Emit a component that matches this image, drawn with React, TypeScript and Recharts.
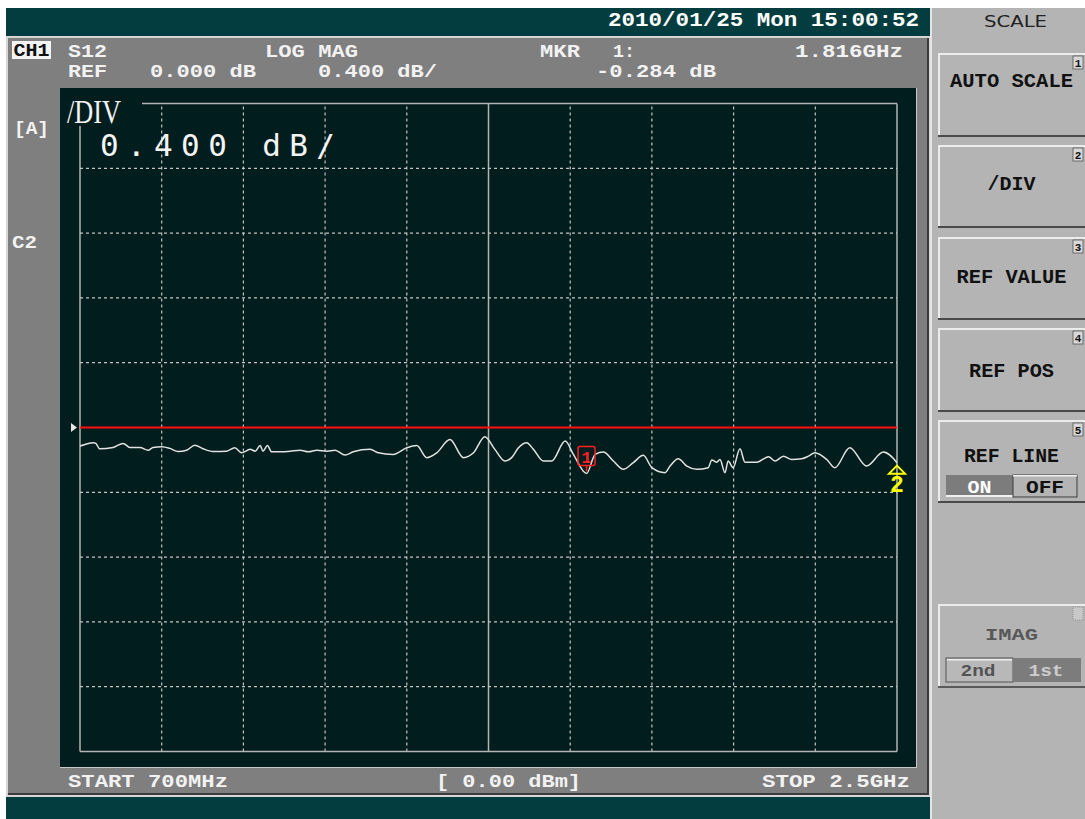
import React from 'react';
import { LineChart, Line, XAxis, YAxis, ReferenceLine, ReferenceDot } from 'recharts';

// S12 trace (MHz / dB)
const freqMHz = [
	700, 711, 729, 735, 743, 773, 795, 810, 832, 850, 861, 880, 898, 916, 935, 953, 971, 993,
	1023, 1041, 1056, 1075, 1086, 1097, 1103, 1113, 1122, 1144, 1163, 1185, 1203, 1222, 1244,
	1262, 1284, 1302, 1339, 1357, 1390, 1420, 1442, 1464, 1486, 1515, 1545, 1567, 1592, 1614,
	1636, 1651, 1666, 1684, 1699, 1721, 1739, 1769, 1787, 1816, 1835, 1853, 1875, 1897, 1919,
	1941, 1960, 1989, 2000, 2018, 2037, 2059, 2084, 2092, 2103, 2110, 2121, 2128, 2139, 2154,
	2165, 2191, 2217, 2231, 2250, 2268, 2290, 2305, 2319, 2345, 2363, 2396, 2433, 2470, 2500,
];
const s12dB = [
	-0.115, -0.105, -0.094, -0.098, -0.131, -0.123, -0.098, -0.123, -0.123, -0.14, -0.123, -0.119,
	-0.129, -0.148, -0.14, -0.109, -0.131, -0.148, -0.146, -0.125, -0.156, -0.135, -0.146, -0.111,
	-0.146, -0.111, -0.15, -0.15, -0.146, -0.14, -0.15, -0.14, -0.146, -0.14, -0.17, -0.15, -0.135,
	-0.156, -0.166, -0.125, -0.111, -0.186, -0.156, -0.074, -0.186, -0.156, -0.057, -0.135, -0.207,
	-0.186, -0.125, -0.094, -0.135, -0.207, -0.207, -0.084, -0.166, -0.284, -0.166, -0.152, -0.207,
	-0.258, -0.217, -0.172, -0.248, -0.279, -0.238, -0.193, -0.238, -0.258, -0.248, -0.201, -0.214,
	-0.197, -0.279, -0.207, -0.248, -0.131, -0.214, -0.214, -0.18, -0.207, -0.177, -0.197, -0.193,
	-0.177, -0.156, -0.197, -0.248, -0.125, -0.238, -0.152, -0.217,
];

// grid: 10 div across 700MHz..2.5GHz, 10 div of 0.4 dB around REF 0 dB
const xGrid = [700, 880, 1060, 1240, 1420, 1600, 1780, 1960, 2140, 2320, 2500];
const yGrid = [2, 1.6, 1.2, 0.8, 0.4, -0.4, -0.8, -1.2, -1.6, -2];
const refValue = 0;
const marker1 = { f: 1816, v: -0.284 };
const marker2 = { f: 2500, v: -0.217 };

const softkeys = [
	{ label: 'AUTO SCALE', n: '1', top: 53, bottom: 137, base: 87, len: 123 },
	{ label: '/DIV', n: '2', top: 145, bottom: 228, base: 190, len: 48 },
	{ label: 'REF VALUE', n: '3', top: 237, bottom: 320, base: 283, len: 110 },
	{ label: 'REF POS', n: '4', top: 328, bottom: 412, base: 377, len: 85 },
	{ label: 'REF LINE', n: '5', top: 420, bottom: 503, base: 462, len: 95 },
];

const data = freqMHz.map((f, i) => ({ f, v: s12dB[i] }));

const DEV = "'Liberation Mono', 'DejaVu Sans Mono', monospace";
const PLOT_BG = '#021d1d';
const TEAL = '#033d3f';

const Txt = ({ x, y, len, children, fill = '#f2f2f2', size = 19, anchor = 'start', weight = 'bold', family = DEV }: any) => (
	<text
		x={x}
		y={y}
		fill={fill}
		fontSize={size}
		fontWeight={weight}
		fontFamily={family}
		textAnchor={anchor}
		textLength={len}
		lengthAdjust='spacingAndGlyphs'
	>
		{children}
	</text>
);

const Marker1 = (props: any) => {
	const { cx, cy } = props;
	return (
		<g>
			<line x1={cx} x2={cx} y1={cy - 8} y2={cy - 2} stroke='#ff2020' strokeWidth={1.5} />
			<rect x={cx - 8.5} y={cy - 27} width={17} height={19} rx={2} fill='none' stroke='#ff2020' strokeWidth={1.5} />
			<text x={cx} y={cy - 11} fill='#ff2020' fontSize={17} fontWeight='bold' fontFamily={DEV} textAnchor='middle'>
				1
			</text>
		</g>
	);
};

const Marker2 = (props: any) => {
	const { cx, cy } = props;
	return (
		<g>
			<path d={`M${cx},${cy + 3} L${cx + 8},${cy + 11} L${cx - 8},${cy + 11} Z`} fill='none' stroke='#ffff00' strokeWidth={2} />
			<text x={cx} y={cy + 29} fill='#ffff00' fontSize={23} fontWeight='bold' fontFamily={DEV} textAnchor='middle'>
				2
			</text>
		</g>
	);
};

const RefArrow = (props: any) => {
	const { cx, cy } = props;
	return <path d={`M${cx - 9},${cy - 4.5} L${cx - 3},${cy} L${cx - 9},${cy + 4.5} Z`} fill='#e8e8e8' />;
};

const Softkey = ({ k }: any) => (
	<g>
		<rect x={938} y={k.top} width={147} height={k.bottom - k.top} fill='#b4b4b4' />
		<rect x={938} y={k.top} width={147} height={2} fill='#ececec' />
		<rect x={938} y={k.top} width={2} height={k.bottom - k.top} fill='#ececec' />
		<rect x={938} y={k.bottom - 2} width={147} height={2} fill='#4a4a4a' />
		<rect x={1073} y={k.top + 3} width={10} height={13} fill='#d8d8d8' stroke='#555' strokeWidth={0.8} />
		<text x={1078} y={k.top + 14} fontSize={11} fontWeight='bold' fontFamily={DEV} textAnchor='middle' fill='#111'>
			{k.n}
		</text>
		<Txt x={1011.5} y={k.base} len={k.len} anchor='middle' fill='#111' size={21}>
			{k.label}
		</Txt>
	</g>
);

const App = () => {
	return (
		<div style={{ position: 'absolute', left: 0, top: 0, width: 1085, height: 819, background: '#fff', overflow: 'hidden' }}>
			{/* frame */}
			<svg width={1085} height={819} style={{ position: 'absolute', left: 0, top: 0 }}>
				<rect x={0} y={0} width={1085} height={819} fill='#ffffff' />
				<rect x={6} y={8} width={925} height={28} fill={TEAL} />
				<rect x={6} y={36} width={925} height={761} fill='#d6d6d6' />
				<rect x={8} y={38} width={919} height={755} fill='#7f7f7f' />
				<rect x={927} y={38} width={2} height={757} fill='#3c3c3c' />
				<rect x={8} y={793} width={921} height={2} fill='#3c3c3c' />
				<rect x={6} y={797} width={925} height={22} fill={TEAL} />
				<rect x={60} y={88} width={857} height={680} fill='#c8c8c8' />
				<rect x={60} y={88} width={856} height={679} fill={PLOT_BG} />
				{/* soft key panel */}
				<rect x={930} y={8} width={155} height={811} fill='#e4e4e4' />
				<rect x={932} y={8} width={153} height={811} fill='#b4b4b4' />
				{softkeys.map((k) => (
					<Softkey key={k.n} k={k} />
				))}
				{/* REF LINE ON/OFF */}
				<rect x={946} y={475} width={67} height={22} fill='#7c7c7c' />
				<rect x={946} y={495} width={67} height={2} fill='#f0f0f0' />
				<rect x={1013} y={475} width={64} height={22} fill='#b4b4b4' stroke='#3c3c3c' strokeWidth={1} />
				<rect x={1013} y={475} width={64} height={1.5} fill='#f0f0f0' />
				<Txt x={979.5} y={493} len={24} anchor='middle' fill='#ffffff' size={18}>
					ON
				</Txt>
				<Txt x={1045} y={493} len={38} anchor='middle' fill='#111' size={18}>
					OFF
				</Txt>
				{/* disabled key */}
				<rect x={938} y={604} width={147} height={84} fill='#b4b4b4' />
				<rect x={938} y={604} width={147} height={2} fill='#ececec' />
				<rect x={938} y={604} width={2} height={84} fill='#ececec' />
				<rect x={938} y={686} width={147} height={2} fill='#5a5a5a' />
				<rect x={1073} y={607} width={10} height={13} fill='#c8c8c8' stroke='#888' strokeWidth={0.8} strokeDasharray='1 1' />
				<g opacity={0.75}>
					<Txt x={1011.5} y={640} len={53} anchor='middle' fill='#3a3a3a' size={17}>
						IMAG
					</Txt>
				</g>
				<rect x={946} y={658} width={67} height={24} fill='#b8b8b8' stroke='#555' strokeWidth={1} />
				<rect x={947} y={659} width={65} height={1.5} fill='#f0f0f0' />
				<rect x={1013} y={658} width={68} height={24} fill='#7c7c7c' />
				<g opacity={0.8}>
					<Txt x={978} y={676} len={35} anchor='middle' fill='#3a3a3a' size={16}>
						2nd
					</Txt>
					<Txt x={1046} y={676} len={35} anchor='middle' fill='#e0e0e0' size={16}>
						1st
					</Txt>
				</g>
			</svg>

			{/* trace */}
			<div style={{ position: 'absolute', left: 60, top: 88 }}>
				<LineChart width={857} height={680} data={data} margin={{ top: 15.5, right: 20, bottom: 16.5, left: 20 }}>
					<XAxis dataKey='f' type='number' domain={[700, 2500]} hide allowDataOverflow />
					<YAxis type='number' domain={[-2, 2]} hide allowDataOverflow />
					{xGrid.map((v, i) => {
						const solid = i === 0 || i === xGrid.length - 1 || i === 5;
						return (
							<ReferenceLine
								key={'x' + v}
								x={v}
								stroke={solid ? '#b4b4b4' : '#c4c4c4'}
								strokeWidth={solid ? 1.5 : 1.2}
								strokeDasharray={solid ? undefined : '3 3'}
							/>
						);
					})}
					{yGrid.map((v, i) => {
						const solid = i === 0 || i === yGrid.length - 1;
						return (
							<ReferenceLine
								key={'y' + v}
								y={v}
								stroke={solid ? '#b4b4b4' : '#c4c4c4'}
								strokeWidth={solid ? 1.5 : 1.2}
								strokeDasharray={solid ? undefined : '3 3'}
							/>
						);
					})}
					<ReferenceLine y={refValue} stroke='#ff1010' strokeWidth={2} />
					<ReferenceDot x={700} y={refValue} r={4} shape={RefArrow} ifOverflow='visible' />
					<Line
						type='monotone'
						dataKey='v'
						stroke='#e2e2e2'
						strokeWidth={1.5}
						dot={false}
						isAnimationActive={false}
					/>
					<ReferenceDot x={marker1.f} y={marker1.v} r={3} shape={Marker1} ifOverflow='visible' />
					<ReferenceDot x={marker2.f} y={marker2.v} r={3} shape={Marker2} ifOverflow='visible' />
				</LineChart>
			</div>

			{/* screen annotations */}
			<svg width={1085} height={819} style={{ position: 'absolute', left: 0, top: 0, pointerEvents: 'none' }}>
				<Txt x={608} y={26} len={311} fill='#ffffff' size={21}>
					2010/01/25 Mon 15:00:52
				</Txt>
				<text x={1015.5} y={27} fontSize={16} fontFamily="'DejaVu Sans', sans-serif" textAnchor='middle' fill='#222' textLength={63} lengthAdjust='spacingAndGlyphs'>
					SCALE
				</text>

				<rect x={12} y={41} width={39} height={18} fill='#f4f4f4' />
				<Txt x={13.5} y={56} len={36} fill='#111' size={18}>
					CH1
				</Txt>
				<Txt x={68} y={57} len={39}>S12</Txt>
				<Txt x={265} y={57} len={93}>LOG MAG</Txt>
				<Txt x={540} y={57} len={40}>MKR</Txt>
				<Txt x={613} y={57} len={22}>1:</Txt>
				<Txt x={795} y={57} len={108}>1.816GHz</Txt>
				<Txt x={68} y={77} len={39}>REF</Txt>
				<Txt x={150} y={77} len={106}>0.000 dB</Txt>
				<Txt x={318} y={77} len={119}>0.400 dB/</Txt>
				<Txt x={596} y={77} len={120}>-0.284 dB</Txt>

				<Txt x={14} y={134} len={35}>[A]</Txt>
				<Txt x={12} y={248} len={25}>C2</Txt>

				<Txt x={68} y={787} len={160}>START 700MHz</Txt>
				<Txt x={436} y={787} len={145}>[ 0.00 dBm]</Txt>
				<Txt x={762} y={787} len={148}>STOP 2.5GHz</Txt>

				<rect x={62} y={89} width={80} height={37} fill={PLOT_BG} />
				<text x={67} y={123} fill='#f4f4f4' fontSize={33} fontFamily="'Liberation Serif', serif" textLength={54} lengthAdjust='spacingAndGlyphs'>
					/DIV
				</text>
				<text x={100} y={156} fill='#f4f4f4' fontSize={31} fontFamily="'DejaVu Sans Mono', monospace" textLength={235}>
					0.400 dB/
				</text>
			</svg>
		</div>
	);
};

export default App;
